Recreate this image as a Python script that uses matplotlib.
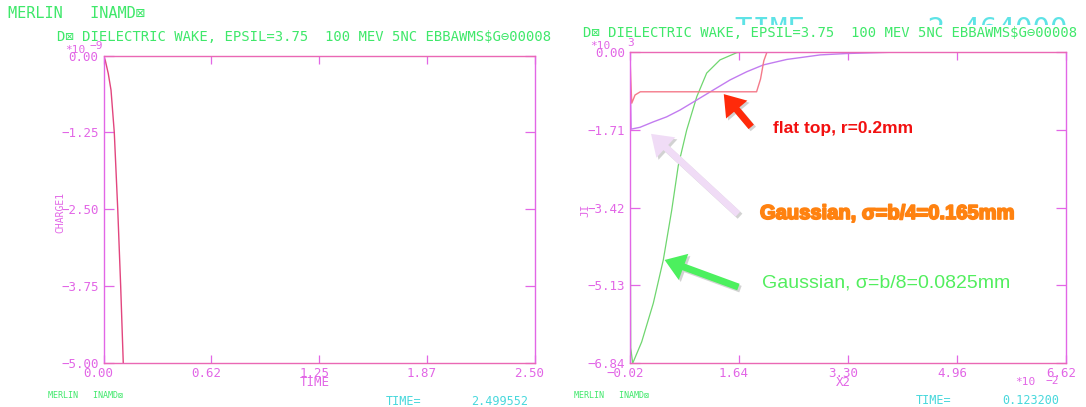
import matplotlib
matplotlib.use("Agg")
import matplotlib.pyplot as plt
import matplotlib.patheffects as pe
from matplotlib.patches import FancyArrowPatch, Rectangle

from matplotlib.transforms import ScaledTranslation

# ---------------- data ----------------
# left panel: CHARGE1 (units of 1e-9) versus TIME
charge_time = [0.0, 0.010, 0.027, 0.043, 0.062, 0.082, 0.099, 0.114, 0.120]
charge = [0.0, -0.08, -0.29, -0.56, -1.25, -2.50, -3.75, -5.00, -5.30]

# right panel: JI (units of 1e3) versus X2 (units of 1e-2)
flat_x = [-0.02, 0.00, 0.01, 0.06, 0.14, 1.91, 1.97, 2.02, 2.07, 6.62]
flat_y = [0.0, -0.80, -1.13, -0.95, -0.88, -0.88, -0.60, -0.20, 0.0, 0.0]

gauss4_x = [-0.02, 0.0, 0.135, 0.338, 0.541, 0.745, 0.999, 1.252, 1.506,
            1.76, 2.013, 2.37, 2.88, 3.28, 4.0, 6.62]
gauss4_y = [0.0, -1.70, -1.66, -1.54, -1.43, -1.28, -1.06, -0.84, -0.62,
            -0.44, -0.29, -0.17, -0.07, -0.04, -0.01, 0.0]

gauss8_x = [-0.02, -0.006, 0.024, 0.161, 0.338, 0.49, 0.618, 0.718, 0.846,
            0.999, 1.15, 1.353, 1.61, 1.8, 6.62]
gauss8_y = [0.0, -6.50, -6.84, -6.37, -5.52, -4.57, -3.48, -2.50, -1.72,
            -0.99, -0.47, -0.18, -0.02, 0.0, 0.0]

left_xticks = [0.0, 0.625, 1.25, 1.875, 2.5]
left_xlabels = ["0.00", "0.62", "1.25", "1.87", "2.50"]
left_yticks = [0.0, -1.25, -2.5, -3.75, -5.0]
left_ylabels = ["0.00", "\u22121.25", "\u22122.50", "\u22123.75", "\u22125.00"]

right_xticks = [-0.02, 1.64, 3.30, 4.96, 6.62]
right_xlabels = ["\u22120.02", "1.64", "3.30", "4.96", "6.62"]
right_yticks = [0.0, -1.71, -3.42, -5.13, -6.84]
right_ylabels = ["0.00", "\u22121.71", "\u22123.42", "\u22125.13", "\u22126.84"]

run_title = "D\u22a0 DIELECTRIC WAKE, EPSIL=3.75  100 MEV 5NC EBBAWMS$G\u229600008"
stamp = "MERLIN   INAMD\u22a0"

# ---------------- styling ----------------
W, H = 1086, 407
MONO = ["DejaVu Sans Mono", "DejaVu Sans"]
SANS = ["Liberation Sans", "DejaVu Sans"]
MAGENTA = "#e266e6"
PINK_SPINE = "#ea68b4"
GREEN_TXT = "#3fe86a"
CYAN_TXT = "#48d8dc"

plt.rcParams["font.family"] = MONO

fig = plt.figure(figsize=(W / 100, H / 100), dpi=100)
fig.patch.set_facecolor("white")


def fx(x):
    return x / W


def fy(y):
    return 1 - y / H


def frame(ax):
    for side in ("left", "right"):
        ax.spines[side].set_color(MAGENTA)
    for side in ("top", "bottom"):
        ax.spines[side].set_color(PINK_SPINE)
    for sp in ax.spines.values():
        sp.set_linewidth(1.0)
    ax.tick_params(axis="x", direction="in", length=5.5, width=0.9,
                   colors=MAGENTA, top=True, bottom=True, labelsize=9, pad=3)
    ax.tick_params(axis="y", direction="in", length=7.5, width=0.9,
                   colors=MAGENTA, left=True, right=True, labelsize=9, pad=3.5)
    ax.set_facecolor("white")


def shift_xlabels(ax, dx_px):
    off = ScaledTranslation(dx_px / 100, 0, fig.dpi_scale_trans)
    for lab in ax.get_xticklabels():
        lab.set_transform(lab.get_transform() + off)
        lab.set_family(MONO)
    for lab in ax.get_yticklabels():
        lab.set_family(MONO)


# ---------------- left panel ----------------
axL = fig.add_axes([fx(103.6), fy(362.7), fx(534.6 - 103.6), (362.7 - 55.7) / H])
axL.plot(charge_time, charge, color="#e2457e", lw=1.0)
axL.set_xlim(0.0, 2.5)
axL.set_ylim(-5.0, 0.0)
axL.set_xticks(left_xticks, left_xlabels)
axL.set_yticks(left_yticks, left_ylabels)
frame(axL)
shift_xlabels(axL, -5)

# ---------------- right panel ----------------
axR = fig.add_axes([fx(629.8), fy(363.3), fx(1066 - 629.8), (363.3 - 51.7) / H])
axR.plot(gauss8_x, gauss8_y, color="#6fd66f", lw=0.9)
axR.plot(gauss4_x, gauss4_y, color="#c27cf0", lw=1.0)
axR.plot(flat_x, flat_y, color="#f47a8a", lw=1.0)
axR.set_xlim(-0.02, 6.62)
axR.set_ylim(-6.84, 0.0)
axR.set_xticks(right_xticks, right_xlabels)
axR.set_yticks(right_yticks, right_ylabels)
frame(axR)
shift_xlabels(axR, -5)

# ---------------- plotter annotations ----------------
def t(x, y, s, size, color, **kw):
    kw.setdefault("ha", "left")
    kw.setdefault("va", "center")
    kw.setdefault("family", MONO)
    return fig.text(fx(x), fy(y), s, fontsize=size, color=color, **kw)


# large cyan time stamp, only its upper part shows above the title band
big = t(735, 30, "TIME=      2.464000", 21, "#5ee3e6", zorder=0)
band = Rectangle((0, fy(24.5)), 1, 1 - fy(24.5), transform=fig.transFigure)
big.set_clip_path(band)

t(8, 14, stamp, 11, GREEN_TXT)
t(57, 37, run_title, 10, GREEN_TXT)
t(583, 33, run_title, 10, GREEN_TXT)

# exponent markers
t(65, 50, "*10", 8, MAGENTA)
t(89, 46, "\u22129", 8, MAGENTA)
t(590, 46, "*10", 8, MAGENTA)
t(627, 43, "3", 8, MAGENTA)
t(1015, 382, "*10", 8, MAGENTA)
t(1046, 381, "\u22122", 8, MAGENTA)

# axis titles
t(315, 382, "TIME", 9, MAGENTA, ha="center")
t(843, 382, "X2", 9, MAGENTA, ha="center")
t(60, 212, "CHARGE1", 7, MAGENTA, ha="center", rotation=90)
t(585, 210, "JI", 8, MAGENTA, ha="center", rotation=90)

# footer stamps
t(48, 396, stamp, 6, GREEN_TXT)
t(574, 395, stamp, 6, GREEN_TXT)
t(386, 401.5, "TIME=", 8.5, CYAN_TXT)
t(528, 401.5, "2.499552", 8.5, CYAN_TXT, ha="right")
t(916, 401, "TIME=", 8.5, CYAN_TXT)
t(1059, 401, "0.123200", 8.5, CYAN_TXT, ha="right")

# ---------------- call-out arrows and labels ----------------
shadow = [pe.SimplePatchShadow(offset=(1.5, -1.5), shadow_rgbFace="#808080", alpha=0.35),
          pe.Normal()]


def arrow(tail, head, color):
    a = FancyArrowPatch(
        (fx(tail[0]), fy(tail[1])), (fx(head[0]), fy(head[1])),
        transform=fig.transFigure,
        arrowstyle="simple,head_length=1.45,head_width=2.0,tail_width=0.5",
        mutation_scale=10, color=color, lw=0, zorder=5)
    a.set_path_effects(shadow)
    fig.add_artist(a)


arrow((753, 129), (722, 92), "#ff2a0a")
arrow((740, 216), (649, 132), "#f0dcf6")
arrow((741, 288), (662, 259), "#4cf05e")

fig.text(fx(773), fy(128.5), "flat top, r=0.2mm", fontsize=12.5, color="#f21010",
         weight="bold", family=SANS, ha="left", va="center")
fig.text(fx(760), fy(213.5), "Gaussian, \u03c3=b/4=0.165mm", fontsize=14.5,
         color="#ff8210", weight="bold", family=SANS, ha="left", va="center",
         path_effects=[pe.withStroke(linewidth=1.3, foreground="#ff8210")])
fig.text(fx(762), fy(283.5), "Gaussian, \u03c3=b/8=0.0825mm", fontsize=14,
         color="#52ee5e", family=SANS, ha="left", va="center")

fig.savefig("out.png", dpi=100, facecolor="white")
